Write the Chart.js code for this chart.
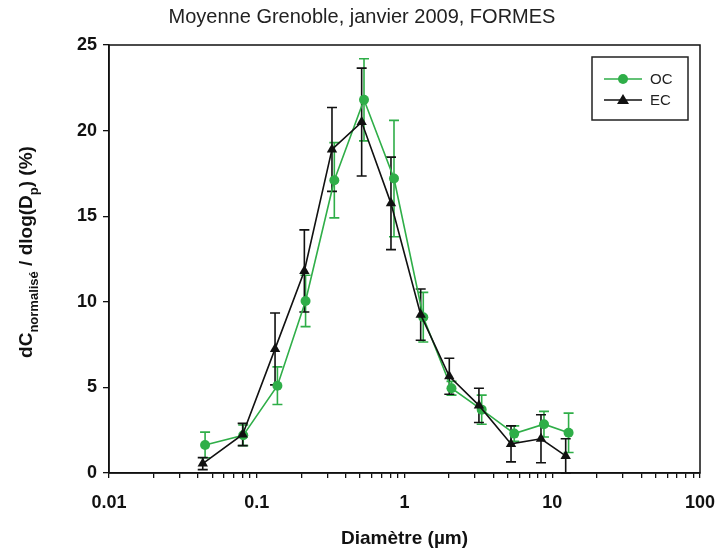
<!DOCTYPE html>
<html>
<head>
<meta charset="utf-8">
<script src="https://cdn.jsdelivr.net/npm/chart.js@4/dist/chart.umd.min.js"></script>
<style>
html,body{margin:0;padding:0;background:#fff;}
#wrap{width:718px;height:550px;position:relative;}
</style>
</head>
<body>
<div id="wrap"><canvas id="c" width="718" height="550"></canvas></div>
<script>
// ---- data ----
const titleText = "Moyenne Grenoble, janvier 2009, FORMES";
const xTitle = "Diamètre (µm)";
const seriesNames = ["OC", "EC"];
const ocDiameter = [0.0447, 0.081, 0.138, 0.214, 0.335, 0.532, 0.849, 1.34, 2.08, 3.33, 5.53, 8.79, 12.9];
const ocValues   = [1.64, 2.2, 5.1, 10.05, 17.1, 21.8, 17.2, 9.1, 4.95, 3.7, 2.3, 2.85, 2.35];
const ocErrors   = [0.75, 0.6, 1.1, 1.5, 2.2, 2.4, 3.4, 1.45, 0.4, 0.85, 0.45, 0.75, 1.15];
const ecDiameter = [0.0431, 0.0803, 0.133, 0.210, 0.323, 0.513, 0.810, 1.287, 2.01, 3.19, 5.26, 8.39, 12.33];
const ecValues   = [0.55, 2.25, 7.25, 11.8, 18.9, 20.5, 15.75, 9.25, 5.65, 3.95, 1.7, 2.0, 1.0];
const ecErrors   = [0.35, 0.65, 2.1, 2.4, 2.45, 3.15, 2.7, 1.5, 1.05, 1.0, 1.05, 1.4, 1.0];
const xTickValues = [0.01,0.02,0.03,0.04,0.05,0.06,0.07,0.08,0.09,0.1,0.2,0.3,0.4,0.5,0.6,0.7,0.8,0.9,1,2,3,4,5,6,7,8,9,10,20,30,40,50,60,70,80,90,100];
const xTickLabels = {0.01:"0.01",0.1:"0.1",1:"1",10:"10",100:"100"};

const GREEN = "#2fae48";
const FONT = "'Liberation Sans', Arial, sans-serif";

const ocPts = ocDiameter.map((d,i)=>({x:d,y:ocValues[i]}));
const ecPts = ecDiameter.map((d,i)=>({x:d,y:ecValues[i]}));

const errorBars = {
  id:'errorBars',
  beforeDatasetsDraw(chart){
    const ctx = chart.ctx, xs = chart.scales.x, ys = chart.scales.y;
    const sets = [[ocDiameter, ocValues, ocErrors, GREEN],[ecDiameter, ecValues, ecErrors, '#111']];
    ctx.save();
    ctx.beginPath();
    ctx.rect(chart.chartArea.left, chart.chartArea.top, chart.chartArea.right-chart.chartArea.left, chart.chartArea.bottom-chart.chartArea.top+1);
    ctx.clip();
    sets.forEach(([xd, yv, er, col])=>{
      ctx.strokeStyle = col; ctx.lineWidth = 1.6;
      xd.forEach((d,i)=>{
        const px = xs.getPixelForValue(d);
        const y1 = ys.getPixelForValue(yv[i]+er[i]);
        const y0 = ys.getPixelForValue(Math.max(0,yv[i]-er[i]));
        ctx.beginPath();
        ctx.moveTo(px,y1); ctx.lineTo(px,y0);
        ctx.moveTo(px-5,y1); ctx.lineTo(px+5,y1);
        ctx.moveTo(px-5,y0); ctx.lineTo(px+5,y0);
        ctx.stroke();
      });
    });
    ctx.restore();
  }
};

const decor = {
  id:'decor',
  afterDraw(chart){
    const ctx = chart.ctx, a = chart.chartArea;
    ctx.save();
    // frame
    ctx.strokeStyle = '#111'; ctx.lineWidth = 1.5;
    ctx.strokeRect(a.left, a.top, a.right-a.left, a.bottom-a.top);
    // title
    ctx.fillStyle = '#222';
    ctx.font = "20px " + FONT;
    ctx.textAlign = 'center'; ctx.textBaseline = 'middle';
    ctx.fillText(titleText, 362, 17);
    // y title with subscripts
    ctx.translate(32, 252);
    ctx.rotate(-Math.PI/2);
    const parts = [["dC","b"],["normalisé","s"],[" / dlog(D","b"],["p","s"],[") (%)","b"]];
    const fb = "bold 19px " + FONT, fs = "bold 13px " + FONT;
    let w = 0;
    parts.forEach(([t,k])=>{ ctx.font = k==='b'?fb:fs; w += ctx.measureText(t).width; });
    let x = -w/2;
    ctx.textAlign='left'; ctx.textBaseline='alphabetic'; ctx.fillStyle='#111';
    parts.forEach(([t,k])=>{
      ctx.font = k==='b'?fb:fs;
      ctx.fillText(t, x, k==='b'?0:6);
      x += ctx.measureText(t).width;
    });
    ctx.restore();
    // legend
    ctx.save();
    const lx = 592, ly = 57, lw = 96, lh = 63;
    ctx.strokeStyle = '#222'; ctx.lineWidth = 1.5;
    ctx.strokeRect(lx, ly, lw, lh);
    const rows = [[79, GREEN, 'circle', seriesNames[0]],[100, '#111', 'triangle', seriesNames[1]]];
    rows.forEach(([yy,col,shape,label])=>{
      ctx.strokeStyle = col; ctx.fillStyle = col; ctx.lineWidth = 1.6;
      ctx.beginPath(); ctx.moveTo(604,yy); ctx.lineTo(642,yy); ctx.stroke();
      ctx.beginPath();
      if(shape==='circle'){ ctx.arc(623,yy,5,0,Math.PI*2); }
      else { ctx.moveTo(623,yy-6); ctx.lineTo(629,yy+4); ctx.lineTo(617,yy+4); ctx.closePath(); }
      ctx.fill();
      ctx.fillStyle = '#222';
      ctx.font = "15px " + FONT; ctx.textAlign='left'; ctx.textBaseline='middle';
      ctx.fillText(label, 650, yy+1);
    });
    ctx.restore();
  }
};

new Chart(document.getElementById('c'), {
  type:'line',
  data:{
    datasets:[
      {label:seriesNames[0], data:ocPts, borderColor:GREEN, backgroundColor:GREEN, borderWidth:1.6,
       pointStyle:'circle', pointRadius:5, pointBorderWidth:0, pointBackgroundColor:GREEN, tension:0, order:2},
      {label:seriesNames[1], data:ecPts, borderColor:'#111', backgroundColor:'#111', borderWidth:1.6,
       pointStyle:'triangle', pointRadius:6, pointBorderWidth:0, pointBackgroundColor:'#111', tension:0, order:1}
    ]
  },
  options:{
    responsive:false, animation:false, devicePixelRatio:1,
    layout:{padding:{left:0, top:45, right:18, bottom:0}},
    plugins:{legend:{display:false}, tooltip:{enabled:false}, title:{display:false}},
    scales:{
      x:{
        type:'logarithmic', min:0.01, max:100, position:'bottom',
        afterBuildTicks(s){ s.ticks = xTickValues.map(v=>({value:v, major: !!xTickLabels[v]})); },
        afterFit(s){ s.height = 77; s.paddingLeft = 0; s.paddingRight = 0; },
        ticks:{autoSkip:false, maxRotation:0, padding:14, color:'#111',
               font:{family:FONT, size:18, weight:'bold'},
               callback:(v)=> xTickLabels[v] || ''},
        grid:{drawOnChartArea:false, drawTicks:true, tickLength:5, color:'#111', lineWidth:1.3},
        border:{display:true, color:'#111', width:1.5},
        title:{display:true, text:xTitle, color:'#111', font:{family:FONT, size:19, weight:'bold'}, padding:{top:0,bottom:0}}
      },
      y:{
        type:'linear', min:0, max:25,
        afterFit(s){ s.width = 109; s.paddingTop = 0; s.paddingBottom = 0; },
        ticks:{stepSize:5, padding:6, color:'#111', font:{family:FONT, size:18, weight:'bold'}},
        grid:{drawOnChartArea:false, drawTicks:true, tickLength:6, color:'#111', lineWidth:1.3},
        border:{display:true, color:'#111', width:1.5}
      }
    }
  },
  plugins:[errorBars, decor]
});
</script>
</body>
</html>
